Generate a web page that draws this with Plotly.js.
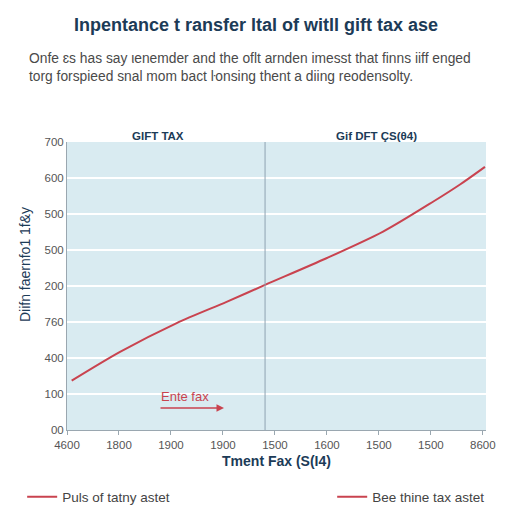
<!DOCTYPE html>
<html>
<head>
<meta charset="utf-8">
<script src="https://cdn.plot.ly/plotly-3.0.1.min.js"></script>
<style>html,body{margin:0;padding:0;background:#fff;}#chart{width:512px;height:512px;}</style>
</head>
<body>
<div id="chart"></div>
<script>
const xValues = [0.09, 1.02, 2.11, 3.07, 3.81, 4.99, 6.08, 7.04, 7.56, 8.04];
const yValues = [137, 217, 297, 356, 403, 477, 551, 634, 682, 731];
const xTickVals = [0, 1, 2, 3, 4, 5, 6, 7, 8];
const xTickText = ["4600", "1800", "1900", "1900", "1500", "1600", "1500", "1500", "8600"];
const yTickVals = [0, 100, 200, 300, 400, 500, 600, 700, 800];
const yTickText = ["00", "100", "400", "760", "200", "500", "500", "600", "700"];
const legendNames = ["Puls of tatny astet", "Bee thine tax astet"];
const dividerX = 3.81;
const arrowFromX = 1.77, arrowToX = 3.02, arrowY = 61;
const labelX = 1.77, labelY = 94;

const red = '#c9434f';
const navy = '#1c3b57';

const traces = [
  {x: xValues, y: yValues, type: 'scatter', mode: 'lines', name: legendNames[0], legend: 'legend',
   line: {color: red, width: 2, shape: 'spline', smoothing: 0.8}},
  {x: [null], y: [null], type: 'scatter', mode: 'lines', name: legendNames[1], legend: 'legend2',
   line: {color: red, width: 2}}
];

const layout = {
  width: 512, height: 512,
  margin: {l: 67, r: 26, t: 142, b: 82},
  paper_bgcolor: '#ffffff',
  plot_bgcolor: '#d9ebf1',
  font: {family: 'Liberation Sans, Arial, sans-serif', color: '#555'},
  title: {text: '<b>Inpentance t ransfer ltal of witll gift tax ase</b>', x: 0.5, xanchor: 'center',
          y: 0.951, yanchor: 'middle', font: {size: 18, color: navy, family: 'Liberation Sans, Arial, sans-serif'}},
  xaxis: {range: [0, 8.06], tickvals: xTickVals, ticktext: xTickText, showgrid: false, zeroline: false,
          showline: true, linecolor: '#9aa7b0', linewidth: 1, ticks: 'outside', ticklen: 4, tickcolor: '#9aa7b0',
          tickfont: {size: 11.5, color: '#555'},
          title: {text: '<b>Tment Fax (S(I4)</b>', font: {size: 14, color: navy}, standoff: 6}},
  yaxis: {range: [0, 800], tickvals: yTickVals, ticktext: yTickText, showgrid: true, gridcolor: '#ffffff', gridwidth: 1.5,
          zeroline: false, showline: true, linecolor: '#9aa7b0', linewidth: 1, ticks: '',
          tickfont: {size: 11.5, color: '#555'}},
  shapes: [
    {type: 'line', xref: 'x', yref: 'paper', x0: dividerX, x1: dividerX, y0: 0, y1: 1,
     line: {color: '#8fa3b1', width: 1}}
  ],
  annotations: [
    {xref: 'paper', yref: 'paper', x: -0.095, y: 1.257, xanchor: 'left', yanchor: 'middle', align: 'left',
     showarrow: false, text: 'Onfe ɛs has say ιenemder and the oflt arnden imesst that finns iiff enged<br>torg forspieed snal mom bact ŀonsing thent a diing reodensolty.',
     font: {size: 13.8, color: '#4a4a4a'}},
    {xref: 'paper', yref: 'paper', x: -0.100, y: 0.573, xanchor: 'center', yanchor: 'middle', textangle: -90,
     showarrow: false, text: 'Diifn faernfo1 1f&y', font: {size: 14, color: navy}},
    {xref: 'x', yref: 'paper', x: 1.75, y: 1.049, showarrow: false, text: '<b>GIFT TAX</b>',
     font: {size: 11.5, color: navy}},
    {xref: 'x', yref: 'paper', x: 5.96, y: 1.049, showarrow: false, text: '<b>Gif DFT ÇS(θ4)</b>',
     font: {size: 11.5, color: navy}},
    {xref: 'x', yref: 'y', x: labelX, y: labelY, xanchor: 'left', yanchor: 'middle', showarrow: false,
     text: 'Ente fax', font: {size: 13, color: red}},
    {xref: 'x', yref: 'y', x: arrowToX, y: arrowY, axref: 'x', ayref: 'y', ax: arrowFromX, ay: arrowY,
     showarrow: true, arrowhead: 2, arrowsize: 1, arrowwidth: 1.5, arrowcolor: red, text: ''}
  ],
  showlegend: true,
  legend: {orientation: 'h', x: -0.107, xanchor: 'left', yref: 'container', y: 0.0293, yanchor: 'middle',
           font: {size: 13.5, color: '#444'}, bgcolor: 'rgba(0,0,0,0)'},
  legend2: {orientation: 'h', x: 1.01, xanchor: 'right', yref: 'container', y: 0.0293, yanchor: 'middle',
           font: {size: 13.5, color: '#444'}, bgcolor: 'rgba(0,0,0,0)'}
};

Plotly.newPlot('chart', traces, layout, {displayModeBar: false, responsive: false});
</script>
</body>
</html>
